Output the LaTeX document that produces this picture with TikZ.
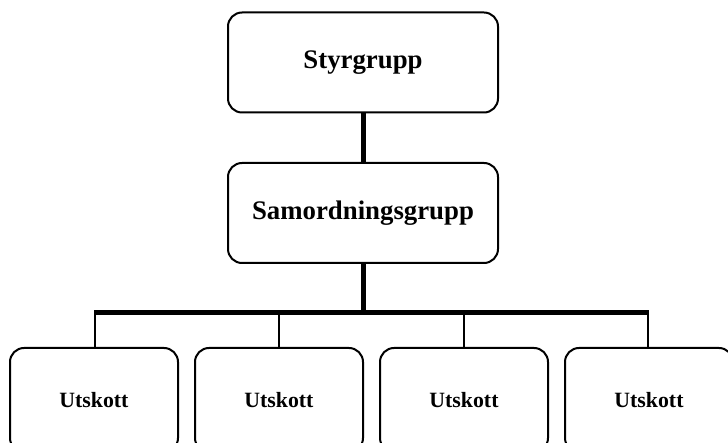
\documentclass[tikz,border=0pt]{standalone}
\usepackage{fontspec}
\setmainfont{Liberation Serif}
\tikzset{
  box/.style={draw=black, line width=2pt, rounded corners=14pt, fill=white, inner sep=0pt, font=\bfseries},
  bigbox/.style={box, minimum width=270pt, minimum height=100pt, font=\fontsize{26.8}{31}\selectfont\bfseries},
  smallbox/.style={box, minimum width=168pt, minimum height=104pt, font=\fontsize{21.8}{26}\selectfont\bfseries},
  thick line/.style={line width=5pt},
  thin line/.style={line width=1.5pt}
}
\begin{document}
\begin{tikzpicture}[x=1pt,y=-1pt]
\useasboundingbox (0,0) rectangle (728,443);
\clip (0,0) rectangle (728,443);
\node[bigbox] (styr) at (363,62.5) {Styrgrupp};
\node[bigbox] (sam) at (363,213) {Samordningsgrupp};
\node[smallbox] (u1) at (94,400) {Utskott};
\node[smallbox] (u2) at (279,400) {Utskott};
\node[smallbox] (u3) at (464,400) {Utskott};
\node[smallbox] (u4) at (649,400) {Utskott};
\coordinate (barL) at (95,313);
\coordinate (barR) at (648,313);
\coordinate (barM) at (363,313);
\draw[thick line] (styr.south) -- (sam.north);
\draw[thick line] (sam.south) -- (barM);
\draw[thick line] ([xshift=-0.75pt]barL) -- ([xshift=0.75pt]barR);
\draw[thin line] (barL) -- (barL |- u1.north);
\draw[thin line] (u2.north |- barL) -- (u2.north);
\draw[thin line] (u3.north |- barL) -- (u3.north);
\draw[thin line] (barR) -- (barR |- u4.north);
\end{tikzpicture}
\end{document}
